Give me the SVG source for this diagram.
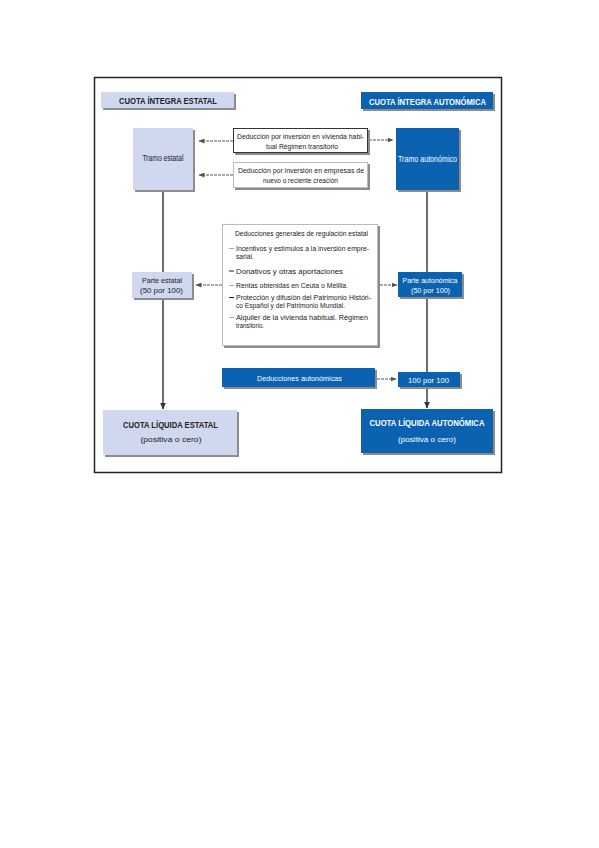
<svg xmlns="http://www.w3.org/2000/svg" width="599" height="848" viewBox="0 0 599 848">
<defs>
<style>
.t{font-family:"Liberation Sans Narrow","Liberation Sans",Arial,sans-serif;fill:#222;}
.w{fill:#fff;}
.b{font-weight:bold;}
.lb{fill:#cfd8ee;}
.bl{fill:#0a62b0;}
.sh{fill:#8c8c8c;}
.wb{fill:#fff;}
.ln{stroke:#333;stroke-width:1.4;fill:none;}
.da{stroke:#555;stroke-width:1;stroke-dasharray:3,1;fill:none;}
</style>
<marker id="ah" markerWidth="6" markerHeight="5" refX="5.5" refY="2.5" orient="auto" markerUnits="userSpaceOnUse">
<path d="M0,0 L6,2.5 L0,5 z" fill="#555"/>
</marker>
<marker id="ahs" markerWidth="7" markerHeight="7" refX="3.5" refY="6.5" orient="0" markerUnits="userSpaceOnUse">
<path d="M0.5,0 L3.5,7 L6.5,0 z" fill="#333"/>
</marker>
</defs>
<rect x="0" y="0" width="599" height="848" fill="#fff"/>
<rect x="94.5" y="77.5" width="407" height="395" fill="#fff" stroke="#222" stroke-width="1.5"/>

<g id="connectors">
<line class="ln" x1="163" y1="190" x2="163" y2="409" marker-end="url(#ahs)"/>
<line class="ln" x1="427" y1="190" x2="427" y2="408" marker-end="url(#ahs)"/>
<line class="da" x1="233" y1="141" x2="199" y2="141" marker-end="url(#ah)"/>
<line class="da" x1="233" y1="175" x2="199" y2="175" marker-end="url(#ah)"/>
<line class="da" x1="369" y1="140" x2="393" y2="140" marker-end="url(#ah)"/>
<line class="da" x1="222" y1="285" x2="196" y2="285" marker-end="url(#ah)"/>
<line class="da" x1="380" y1="285" x2="397" y2="285" marker-end="url(#ah)"/>
<line class="da" x1="377" y1="379" x2="396" y2="379" marker-end="url(#ah)"/>
</g>

<g id="cuota-integra-estatal">
<rect class="sh" x="103" y="94" width="133" height="16"/>
<rect class="lb" x="101" y="92" width="133" height="16"/>
<text class="t b" x="168" y="104" font-size="9.5" text-anchor="middle" textLength="98" lengthAdjust="spacingAndGlyphs">CUOTA ÍNTEGRA ESTATAL</text>
</g>

<g id="cuota-integra-autonomica">
<rect class="sh" x="363" y="94" width="132" height="17"/>
<rect class="bl" x="361" y="92" width="132" height="17"/>
<text class="t b w" x="427.5" y="104.5" font-size="9.5" text-anchor="middle" textLength="117" lengthAdjust="spacingAndGlyphs">CUOTA ÍNTEGRA AUTONÓMICA</text>
</g>

<g id="tramo-estatal">
<rect class="sh" x="135" y="130" width="60" height="62"/>
<rect class="lb" x="133" y="128" width="60" height="62"/>
<text class="t" x="163" y="161" font-size="8.5" text-anchor="middle" textLength="41" lengthAdjust="spacingAndGlyphs">Tramo estatal</text>
</g>

<g id="tramo-autonomico">
<rect class="sh" x="398" y="130" width="63" height="62"/>
<rect class="bl" x="396" y="128" width="63" height="62"/>
<text class="t w" x="427.5" y="162" font-size="8.5" text-anchor="middle" textLength="59" lengthAdjust="spacingAndGlyphs">Tramo autonómico</text>
</g>

<g id="deduccion-vivienda">
<rect class="sh" x="235" y="130" width="135" height="25"/>
<rect class="wb" x="233.5" y="128.5" width="134" height="24" stroke="#333" stroke-width="1"/>
<text class="t" x="300.5" y="139" font-size="8" text-anchor="middle" textLength="127" lengthAdjust="spacingAndGlyphs">Deducción por inversión en vivienda habi-</text>
<text class="t" x="302" y="149" font-size="8" text-anchor="middle" textLength="72" lengthAdjust="spacingAndGlyphs">tual Régimen transitorio</text>
</g>

<g id="deduccion-empresas">
<rect class="sh" x="235" y="164" width="135" height="26"/>
<rect class="wb" x="233.5" y="162.5" width="134" height="25" stroke="#bbb" stroke-width="1"/>
<text class="t" x="301" y="173" font-size="8" text-anchor="middle" textLength="126" lengthAdjust="spacingAndGlyphs">Deducción por inversión en empresas de</text>
<text class="t" x="300.5" y="183" font-size="8" text-anchor="middle" textLength="75" lengthAdjust="spacingAndGlyphs">nuevo o reciente creación</text>
</g>

<g id="deducciones-generales">
<rect class="sh" x="224" y="226" width="156" height="122"/>
<rect class="wb" x="222.5" y="224.5" width="155" height="121" stroke="#bbb" stroke-width="1"/>
<text class="t" x="235" y="236" font-size="7.5" textLength="133" lengthAdjust="spacingAndGlyphs">Deducciones generales de regulación estatal</text>
<line x1="229" y1="248.5" x2="234" y2="248.5" stroke="#aaa" stroke-width="1"/>
<text class="t" x="236" y="251" font-size="7" textLength="133" lengthAdjust="spacingAndGlyphs">Incentivos y estímulos a la inversión empre-</text>
<text class="t" x="236" y="259" font-size="7" textLength="18" lengthAdjust="spacingAndGlyphs">sarial.</text>
<line x1="229" y1="271" x2="234" y2="271" stroke="#222" stroke-width="1"/>
<text class="t" x="236" y="274" font-size="7" textLength="107" lengthAdjust="spacingAndGlyphs">Donativos y otras aportaciones</text>
<line x1="229" y1="285.5" x2="234" y2="285.5" stroke="#aaa" stroke-width="1"/>
<text class="t" x="236" y="288" font-size="7" textLength="112" lengthAdjust="spacingAndGlyphs">Rentas obtenidas en Ceuta o Melilla.</text>
<line x1="229" y1="297.5" x2="234" y2="297.5" stroke="#222" stroke-width="1"/>
<text class="t" x="236" y="300" font-size="7" textLength="135" lengthAdjust="spacingAndGlyphs">Protección y difusión del Patrimonio Históri-</text>
<text class="t" x="236" y="308" font-size="7" textLength="109" lengthAdjust="spacingAndGlyphs">co Español y del Patrimonio Mundial.</text>
<line x1="229" y1="317.5" x2="234" y2="317.5" stroke="#aaa" stroke-width="1"/>
<text class="t" x="236" y="320" font-size="7" textLength="132" lengthAdjust="spacingAndGlyphs">Alquiler de la vivienda habitual. Régimen</text>
<text class="t" x="236" y="328" font-size="7" textLength="28" lengthAdjust="spacingAndGlyphs">transitorio.</text>
</g>

<g id="parte-estatal">
<rect class="sh" x="134" y="274" width="60" height="26"/>
<rect class="lb" x="132" y="272" width="60" height="26"/>
<text class="t" x="162" y="283" font-size="8" text-anchor="middle" textLength="40" lengthAdjust="spacingAndGlyphs">Parte estatal</text>
<text class="t" x="161.5" y="292.5" font-size="8" text-anchor="middle" textLength="43" lengthAdjust="spacingAndGlyphs">(50 por 100)</text>
</g>

<g id="parte-autonomica">
<rect class="sh" x="400" y="274" width="64" height="25"/>
<rect class="bl" x="398" y="272" width="64" height="25"/>
<text class="t w" x="430" y="283" font-size="8" text-anchor="middle" textLength="55" lengthAdjust="spacingAndGlyphs">Parte autonómica</text>
<text class="t w" x="430.5" y="292.5" font-size="8" text-anchor="middle" textLength="39" lengthAdjust="spacingAndGlyphs">(50 por 100)</text>
</g>

<g id="deducciones-autonomicas">
<rect class="sh" x="224" y="370" width="153" height="19"/>
<rect class="bl" x="222" y="368" width="153" height="19"/>
<text class="t w" x="299.5" y="380.5" font-size="8" text-anchor="middle" textLength="85" lengthAdjust="spacingAndGlyphs">Deducciones autonómicas</text>
</g>

<g id="cien-por-cien">
<rect class="sh" x="400" y="374" width="62" height="15"/>
<rect class="bl" x="398" y="372" width="62" height="15"/>
<text class="t w" x="428.5" y="382.5" font-size="8" text-anchor="middle" textLength="41" lengthAdjust="spacingAndGlyphs">100 por 100</text>
</g>

<g id="cuota-liquida-estatal">
<rect class="sh" x="105" y="412" width="134" height="45"/>
<rect class="lb" x="103" y="410" width="134" height="45"/>
<text class="t b" x="170.5" y="428" font-size="9" text-anchor="middle" textLength="95" lengthAdjust="spacingAndGlyphs">CUOTA LÍQUIDA ESTATAL</text>
<text class="t" x="171" y="442" font-size="8" text-anchor="middle" textLength="61" lengthAdjust="spacingAndGlyphs">(positiva o cero)</text>
</g>

<g id="cuota-liquida-autonomica">
<rect class="sh" x="363" y="411" width="132" height="44"/>
<rect class="bl" x="361" y="409" width="132" height="44"/>
<text class="t b w" x="427" y="426" font-size="9" text-anchor="middle" textLength="115" lengthAdjust="spacingAndGlyphs">CUOTA LÍQUIDA AUTONÓMICA</text>
<text class="t w" x="427" y="442" font-size="8" text-anchor="middle" textLength="58" lengthAdjust="spacingAndGlyphs">(positiva o cero)</text>
</g>
</svg>
